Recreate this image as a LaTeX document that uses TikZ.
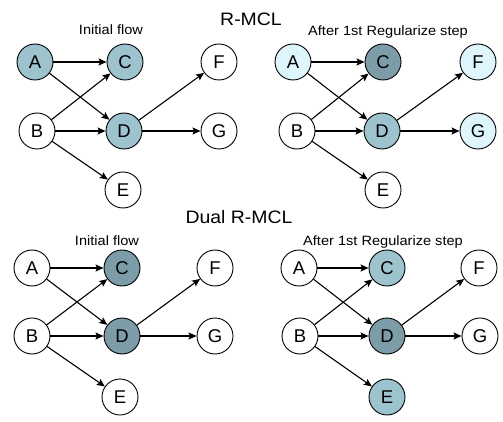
\documentclass[tikz,border=0pt]{standalone}
\usepackage{fontspec}
\usepackage{graphicx}
\setmainfont{Liberation Sans}
\usetikzlibrary{arrows.meta}
\definecolor{midc}{HTML}{9CC3CE}
\definecolor{darkc}{HTML}{7C9DA7}
\definecolor{lightc}{HTML}{DDF5FB}
\newcommand{\hs}[1]{\scalebox{1.08}[1]{#1}}
\tikzset{
  vert/.style={circle, draw=black, line width=0.9pt, minimum size=36pt, inner sep=0pt, font=\fontsize{18.5}{18.5}\selectfont, fill=white},
  mid/.style={vert, fill=midc},
  dark/.style={vert, fill=darkc},
  light/.style={vert, fill=lightc},
  edge/.style={line width=1.1pt, -{Stealth[length=8pt,width=7pt,inset=1.5pt]}},
  title/.style={font=\fontsize{18}{18}\selectfont},
  sub/.style={font=\fontsize{13.5}{13.5}\selectfont}
}
\begin{document}
\begin{tikzpicture}[x=1pt,y=-1pt]
\useasboundingbox (0,0) rectangle (503,422);
\node[title] (t1) at (251,19) {\hs{R-MCL}};
\node[title] (t2) at (239,217) {\hs{Dual R-MCL}};
% top-left
\node[sub] (l1) at (111,30) {\hs{Initial flow}};
\node[mid] (a1) at (35,62) {A};
\node[mid] (c1) at (125,62) {C};
\node[vert] (f1) at (219,62) {F};
\node[vert] (b1) at (37,131) {B};
\node[mid] (d1) at (124,131) {D};
\node[vert] (g1) at (219,131) {G};
\node[vert] (e1) at (123,190) {E};
% top-right
\node[sub] (l2) at (388,32) {\hs{After 1st Regularize step}};
\node[light] (a2) at (293,62) {A};
\node[dark] (c2) at (383,62) {C};
\node[light] (f2) at (478,62) {F};
\node[vert] (b2) at (297,131) {B};
\node[mid] (d2) at (382,131) {D};
\node[light] (g2) at (478,131) {G};
\node[vert] (e2) at (383,190) {E};
% bottom-left
\node[sub] (l3) at (107,241) {\hs{Initial flow}};
\node[vert] (a3) at (32,268) {A};
\node[dark] (c3) at (122,268) {C};
\node[vert] (f3) at (215,268) {F};
\node[vert] (b3) at (32,336) {B};
\node[dark] (d3) at (122,336) {D};
\node[vert] (g3) at (215,336) {G};
\node[vert] (e3) at (120,397) {E};
% bottom-right
\node[sub] (l4) at (383,242) {\hs{After 1st Regularize step}};
\node[vert] (a4) at (299,268) {A};
\node[mid] (c4) at (387,268) {C};
\node[vert] (f4) at (479,268) {F};
\node[vert] (b4) at (300,336) {B};
\node[dark] (d4) at (387,336) {D};
\node[vert] (g4) at (480,336) {G};
\node[mid] (e4) at (387,397) {E};
\foreach \i in {1,2,3,4}{
  \draw[edge] (a\i) -- (c\i);
  \draw[edge] (a\i) -- (d\i);
  \draw[edge] (b\i) -- (c\i);
  \draw[edge] (b\i) -- (d\i);
  \draw[edge] (b\i) -- (e\i);
  \draw[edge] (d\i) -- (f\i);
  \draw[edge] (d\i) -- (g\i);
}
\end{tikzpicture}
\end{document}
